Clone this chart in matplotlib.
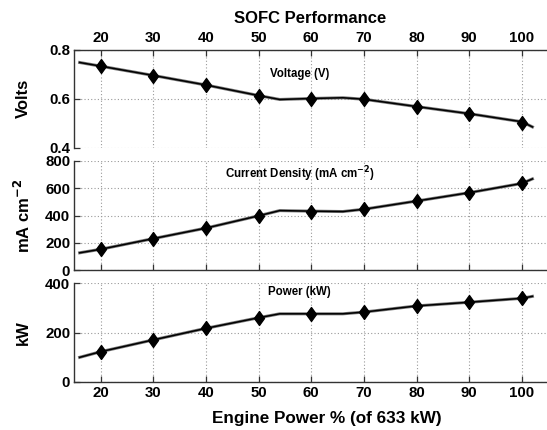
import matplotlib
matplotlib.use("Agg")
import matplotlib.pyplot as plt
from matplotlib.path import Path
from matplotlib.ticker import FormatStrFormatter

plt.rcParams['font.family'] = ['Liberation Sans', 'DejaVu Sans']
plt.rcParams['font.weight'] = 'bold'
plt.rcParams['mathtext.default'] = 'bf'

# Measured operating points (engine load %)
load_pts = [20, 30, 40, 50, 60, 70, 80, 90, 100]
voltage_pts = [0.732, 0.693, 0.654, 0.609, 0.599, 0.596, 0.565, 0.536, 0.499]
current_pts = [154, 232, 309, 399, 430, 447, 507, 568, 638]
power_pts = [122, 170, 217, 260, 276, 283, 308, 323, 339]

# Continuous model curves
load_curve = [16, 20, 30, 40, 50, 54, 60, 66, 70, 80, 90, 100, 102]
voltage_curve = [0.747, 0.732, 0.694, 0.655, 0.612, 0.596, 0.600, 0.603, 0.597, 0.567, 0.538, 0.505, 0.484]
current_curve = [128, 154, 232, 309, 399, 437, 433, 430, 447, 507, 568, 636, 669]
power_curve = [99, 122, 170, 217, 260, 276, 276, 276, 283, 308, 323, 339, 347]

x_ticks = [20, 30, 40, 50, 60, 70, 80, 90, 100]

W, H = 547, 430
fig = plt.figure(figsize=(W / 100, H / 100), dpi=100)

xmin, xmax = 15, 110
x20_px, px_per_unit = 100.7, 5.265
left_px = x20_px - (20 - xmin) * px_per_unit
right_px = x20_px + (xmax - 20) * px_per_unit
width_px = right_px - left_px


def make_axes(top_px, bottom_px):
    return fig.add_axes([left_px / W, 1 - bottom_px / H,
                         width_px / W, (bottom_px - top_px) / H])


ax_v = make_axes(49.5, 147.5)
ax_c = make_axes(161, 270.3)
ax_p = make_axes(283.3, 381.7)

diamond = Path([(0, 1), (0.72, 0), (0, -1), (-0.72, 0), (0, 1)],
               [Path.MOVETO, Path.LINETO, Path.LINETO, Path.LINETO, Path.CLOSEPOLY])

panels = [
    (ax_v, voltage_curve, voltage_pts, (0.4, 0.8), [0.4, 0.6, 0.8], 'Volts',
     'Voltage (V)', 0.702),
    (ax_c, current_curve, current_pts, (0, 800), [0, 200, 400, 600, 800],
     r'mA cm$^{-2}$', r'Current Density (mA cm$^{-2}$)', 706),
    (ax_p, power_curve, power_pts, (0, 400), [0, 200, 400], 'kW',
     'Power (kW)', 365),
]

spine_col = '#333333'
for ax, curve, pts, ylim, yt, ylab, inner, ytxt in panels:
    ax.plot(load_curve, curve, color='#777777', lw=2.2, zorder=3)
    ax.plot(load_curve, curve, color='black', lw=1.1, zorder=4)
    ax.plot(load_pts, pts, linestyle='none', marker=diamond, markersize=10,
            color='black', zorder=5)
    ax.set_xlim(xmin, xmax)
    ax.set_ylim(*ylim)
    ax.set_yticks(yt)
    ax.set_xticks(x_ticks)
    ax.grid(True, color='#999999', linestyle=(0, (1, 2)), linewidth=0.8)
    ax.set_axisbelow(True)
    for s in ax.spines.values():
        s.set_color(spine_col)
        s.set_linewidth(1.0)
    ax.spines['right'].set_visible(False)
    ax.tick_params(direction='in', length=4, width=0.9, color=spine_col,
                   labelsize=10.8, pad=3)
    ax.set_ylabel(ylab, fontsize=12, fontweight='bold')
    ax.yaxis.label.set_va('center')
    ax.yaxis.set_label_coords((23 - left_px) / width_px, 0.5)
    ax.text(57.8, ytxt, inner, ha='center', va='center', fontsize=8.3,
            fontweight='bold')

ax_v.yaxis.set_major_formatter(FormatStrFormatter('%.1f'))

# Top panel: axis along the top edge
ax_v.spines['bottom'].set_visible(False)
ax_v.xaxis.set_ticks_position('top')
ax_v.xaxis.set_label_position('top')
ax_v.set_title('SOFC Performance', fontsize=12, fontweight='bold', pad=19,
               x=(310 - left_px) / width_px)

# Middle panel: ticks only
ax_c.spines['top'].set_visible(False)
ax_c.tick_params(axis='x', labelbottom=False)

# Bottom panel
ax_p.spines['top'].set_visible(False)
ax_p.set_xlabel('Engine Power % (of 633 kW)', fontsize=12.3, fontweight='bold')
ax_p.xaxis.set_label_coords((326.5 - left_px) / width_px, (381.7 - 411) / 98.4)

fig.savefig('out.png', dpi=100)
